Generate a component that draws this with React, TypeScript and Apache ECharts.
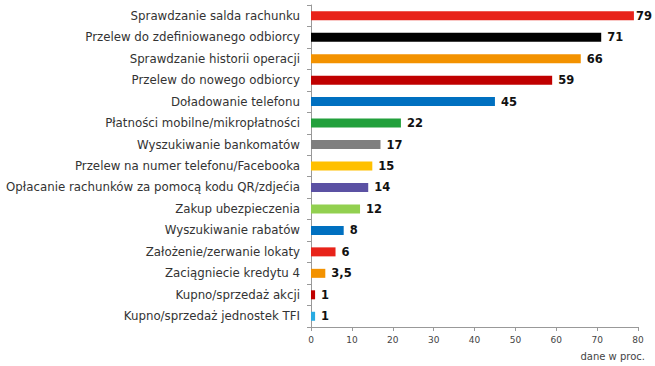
import React, { useEffect, useRef } from "react";
import * as echarts from "echarts";

const categories = [
  "Sprawdzanie salda rachunku",
  "Przelew do zdefiniowanego odbiorcy",
  "Sprawdzanie historii operacji",
  "Przelew do nowego odbiorcy",
  "Doładowanie telefonu",
  "Płatności mobilne/mikropłatności",
  "Wyszukiwanie bankomatów",
  "Przelew na numer telefonu/Facebooka",
  "Opłacanie rachunków za pomocą kodu QR/zdjećia",
  "Zakup ubezpieczenia",
  "Wyszukiwanie rabatów",
  "Założenie/zerwanie lokaty",
  "Zaciągniecie kredytu 4",
  "Kupno/sprzedaż akcji",
  "Kupno/sprzedaż jednostek TFI",
];
const values = [79, 71, 66, 59, 45, 22, 17, 15, 14, 12, 8, 6, 3.5, 1, 1];
const colors = [
  "#e8231a", "#000000", "#f39200", "#c00000", "#0070c0", "#22a03c", "#7f7f7f",
  "#ffc000", "#5b51a3", "#92d050", "#0070c0", "#e8231a", "#f39200", "#c00000", "#29abe2",
];
const xTicks = [0, 10, 20, 30, 40, 50, 60, 70, 80];
const unitLabel = "dane w proc.";

export default function App() {
  const ref = useRef<HTMLDivElement>(null);
  useEffect(() => {
    if (!ref.current) return;
    const chart = echarts.init(ref.current, null, { renderer: "svg" });
    chart.setOption({
      animation: false,
      backgroundColor: "#ffffff",
      textStyle: { fontFamily: "DejaVu Sans" },
      grid: { left: 311, right: 17, top: 5, bottom: 39, containLabel: false },
      xAxis: {
        type: "value",
        min: xTicks[0],
        max: xTicks[xTicks.length - 1],
        interval: 10,
        splitLine: { show: false },
        axisLine: { show: true, lineStyle: { color: "#999" } },
        axisTick: { show: true, length: 4, lineStyle: { color: "#999" } },
        axisLabel: { color: "#444", fontSize: 9, margin: 8 },
      },
      yAxis: {
        type: "category",
        inverse: true,
        data: categories,
        axisLine: { show: true, lineStyle: { color: "#999" } },
        axisTick: { show: true, length: 4, lineStyle: { color: "#999" } },
        axisLabel: { color: "#333", fontSize: 11.8, margin: 11 },
      },
      series: [
        {
          type: "bar",
          data: values.map((v, i) => ({
            value: v,
            itemStyle: { color: colors[i] },
            label: i === 0 ? { distance: 2 } : undefined,
          })),
          barWidth: 9,
          label: {
            show: true,
            position: "right",
            distance: 6,
            color: "#111",
            fontWeight: "bold",
            fontSize: 11.5,
            fontFamily: "DejaVu Sans",
            formatter: (p: any) => String(p.value).replace(".", ","),
          },
        },
      ],
      graphic: [
        {
          type: "text",
          right: 10,
          top: 351,
          style: { text: unitLabel, fill: "#444", fontSize: 10, fontFamily: "DejaVu Sans" },
        },
      ],
    });
    return () => chart.dispose();
  }, []);
  return <div ref={ref} style={{ width: 655, height: 366, position: "absolute", left: 0, top: 0 }} />;
}
